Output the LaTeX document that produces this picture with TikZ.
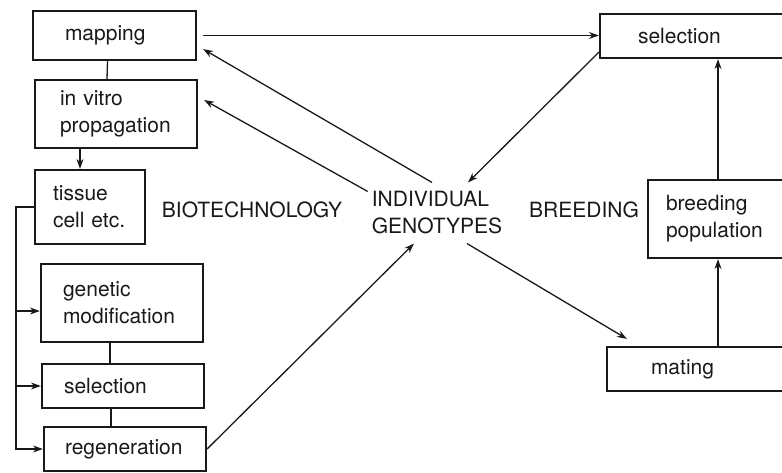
\documentclass[tikz,border=0pt]{standalone}
\usepackage{fontspec}
\setmainfont{TeX Gyre Heros}
\usetikzlibrary{arrows.meta}
\tikzset{
	textnode/.style = {align=left, inner sep=0pt, font=\fontsize{21}{27}\selectfont, text=black!90},
	stagebox/.style = {textnode, rectangle, draw=black!90, line width=2.2pt},
	link/.style = {draw=black!90, line width=1.3pt},
}

\begin{document}
\begin{tikzpicture}[x=1pt, y=-1pt, >={Stealth[length=10pt, width=7pt]}]
	\clip (0,0) rectangle (782,473);
	% biotechnology column
	\node[stagebox, text width=99pt, inner xsep=32pt, minimum height=49pt](mapping) at (114.5,35.5) {mapping};
	\node[stagebox, text width=112pt, inner xsep=25pt, minimum height=68pt](invitro) at (116,114) {in vitro\\propagation};
	\node[stagebox, text width=74pt, inner xsep=18pt, minimum height=74pt](tissue) at (90,207) {tissue\\cell etc.};
	\node[stagebox, text width=118pt, inner xsep=22pt, minimum height=78pt](genetic) at (122,303) {genetic\\modification};
	\node[stagebox, text width=118pt, inner xsep=22pt, minimum height=44pt](selL) at (123,386) {selection};
	\node[stagebox, text width=120pt, inner xsep=21pt, minimum height=44pt](regen) at (125,449) {regeneration};
	% breeding column
	\node[stagebox, text width=124pt, inner xsep=38pt, minimum height=44pt](selR) at (700,36) {selection};
	\node[stagebox, text width=116pt, inner xsep=18pt, minimum height=78pt](breed) at (724,219) {breeding\\population};
	\node[stagebox, text width=105pt, inner xsep=44pt, minimum height=44pt](mating) at (703.5,369) {mating};
	% labels
	\node[textnode](biotech) at (252,210) {BIOTECHNOLOGY};
	\node[textnode](breeding) at (584,210) {BREEDING};
	\node[textnode, inner xsep=4pt, inner ysep=9pt](geno) at (437,213) {INDIVIDUAL\\GENOTYPES};
	
	\draw[link] ([xshift=-7pt]mapping.south) -- ([xshift=-9pt]invitro.north);
	\draw[link,->] ([xshift=-36pt]invitro.south) -- ([xshift=-10pt]tissue.north);
	\draw[link] ([xshift=-12pt]genetic.south) -- ([xshift=-13pt]selL.north);
	\draw[link] ([xshift=-12pt]selL.south) -- ([xshift=-14pt]regen.north);
	\coordinate (bus) at (16,207);
	\draw[link,->] (tissue.west) -- (bus) |- (regen.west);
	\draw[link,->] (bus) |- ([yshift=-8pt]genetic.west);
	\draw[link,->] (bus) |- (selL.west);
	
	\draw[link,->] ([xshift=6pt]mapping.east) -- (mapping.east -| selR.west);
	\draw[link,->] ([xshift=-5pt]geno.north) -- ([shift={(6pt,12pt)}]mapping.south east);
	\draw[link,->] ([yshift=-9pt]geno.north west) -- ([shift={(6pt,14pt)}]invitro.east);
	\draw[link,->] ([yshift=7pt]selR.south west) -- ([xshift=31pt]geno.north);
	\draw[link,->] (regen.east) -- ([xshift=-23pt]geno.south);
	\draw[link,->] ([xshift=30pt]geno.south) -- ([shift={(21pt,7pt)}]mating.north west);
	
	\path ([xshift=-6pt]breed.south) coordinate (bsouth) ([xshift=-6pt]breed.north) coordinate (bnorth);
	\draw[link,->] (mating.north -| bsouth) -- (bsouth);
	\draw[link,->] (bnorth) -- (selR.south -| bnorth);
\end{tikzpicture}
\end{document}
